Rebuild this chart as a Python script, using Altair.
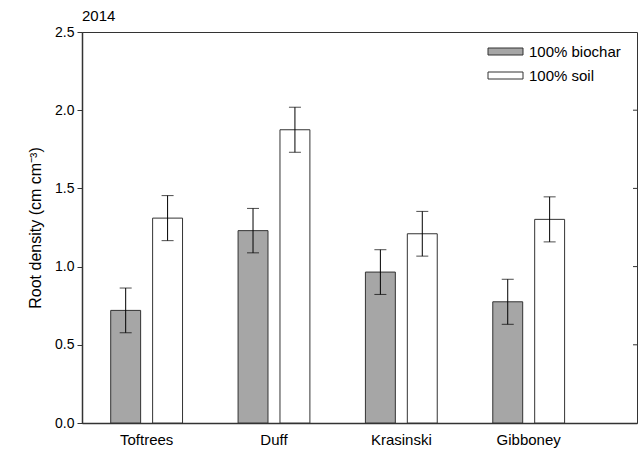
import altair as alt
import pandas as pd

sites = ["Toftrees", "Duff", "Krasinski", "Gibboney"]
treatments = ["100% biochar", "100% soil"]
biochar_mean = [0.72, 1.23, 0.965, 0.775]
biochar_err = [0.143, 0.142, 0.143, 0.144]
soil_mean = [1.31, 1.875, 1.21, 1.302]
soil_err = [0.144, 0.144, 0.143, 0.144]
right_ticks = [0.5, 1.0, 1.5, 2.0]

rows = []
for i, s in enumerate(sites):
    rows.append({"Site": s, "Treatment": treatments[0], "mean": biochar_mean[i],
                 "lo": biochar_mean[i] - biochar_err[i], "hi": biochar_mean[i] + biochar_err[i]})
    rows.append({"Site": s, "Treatment": treatments[1], "mean": soil_mean[i],
                 "lo": soil_mean[i] - soil_err[i], "hi": soil_mean[i] + soil_err[i]})
df = pd.DataFrame(rows)

W, H = 555, 391
FONT = "Liberation Sans"

base = alt.Chart(df).encode(
    x=alt.X("Site:N", sort=sites, title=None,
            scale=alt.Scale(paddingInner=0.436, paddingOuter=0.397, align=0.284),
            axis=alt.Axis(labelAngle=0, ticks=False, labelPadding=9, labelFontSize=15,
                          domainColor="#333", domainWidth=1.5)),
    xOffset=alt.XOffset("Treatment:N", sort=treatments,
                        scale=alt.Scale(paddingInner=0.286, paddingOuter=0)),
)

yscale = alt.Scale(domain=[0, 2.5], nice=False)

bars = base.mark_bar(stroke="#333", strokeWidth=1).encode(
    y=alt.Y("mean:Q", scale=yscale, title="Root density (cm cm⁻³)",
            axis=alt.Axis(values=[0, 0.5, 1.0, 1.5, 2.0, 2.5], format=".1f", tickSize=5,
                          labelPadding=3, labelFontSize=14, titleFontSize=16,
                          titleFontWeight="normal", titlePadding=11, grid=False,
                          domainColor="#333", tickColor="#333", domainWidth=1.5)),
    color=alt.Color("Treatment:N", sort=treatments,
                    scale=alt.Scale(domain=treatments, range=["#a6a6a6", "#ffffff"]),
                    legend=alt.Legend(title=None, orient="none", legendX=416, legendY=12,
                                      symbolType="M-2.5,-0.5H2.5V0.5H-2.5Z", symbolSize=196,
                                      symbolStrokeColor="#333", symbolStrokeWidth=1,
                                      symbolOpacity=1, labelOffset=16, labelFontSize=15,
                                      rowPadding=8, padding=0)),
)

rules = base.mark_rule(color="black", strokeWidth=1).encode(
    y=alt.Y("lo:Q", scale=yscale), y2="hi:Q")
caps_lo = base.mark_tick(color="black", size=12, thickness=1, orient="horizontal").encode(
    y=alt.Y("lo:Q", scale=yscale))
caps_hi = base.mark_tick(color="black", size=12, thickness=1, orient="horizontal").encode(
    y=alt.Y("hi:Q", scale=yscale))

rt = alt.Chart(pd.DataFrame({"v": right_ticks})).mark_rule(color="#333").encode(
    y=alt.Y("v:Q", scale=yscale), x=alt.value(W - 4), x2=alt.value(W))

chart = alt.layer(bars, rules, caps_lo, caps_hi, rt).properties(
    width=W, height=H,
    title=alt.TitleParams("2014", anchor="start", fontSize=15, fontWeight="normal",
                          offset=8, dy=7, font=FONT, frame="group"),
    autosize=alt.AutoSizeParams(type="none"),
    padding={"left": 82, "top": 32, "right": 1, "bottom": 31},
).configure_view(stroke="#333", strokeWidth=1).configure_axis(
    labelFont=FONT, titleFont=FONT, labelColor="black", titleColor="black"
).configure_legend(labelFont=FONT, labelColor="black")

chart.save("out.html", embed_options={"renderer": "svg", "actions": False})
